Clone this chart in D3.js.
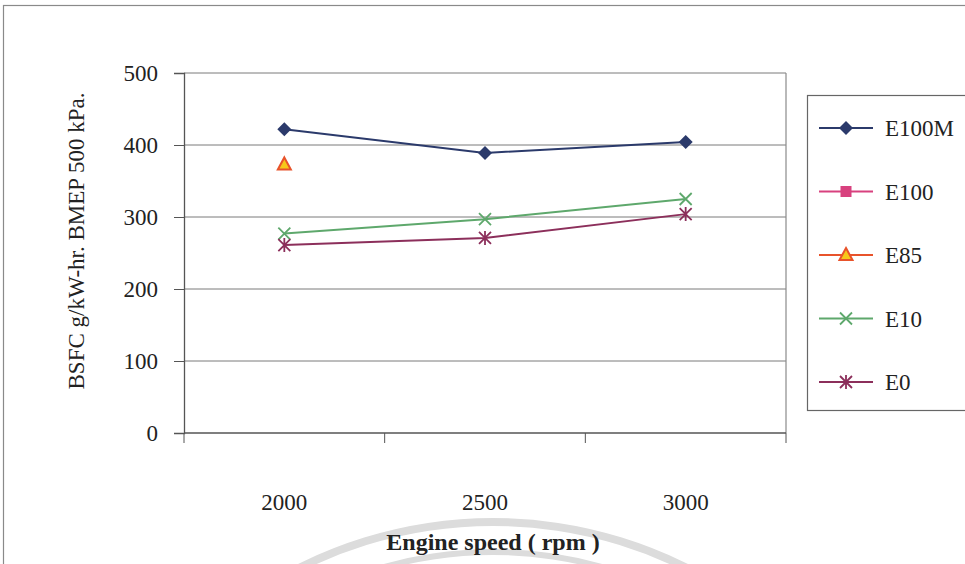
<!DOCTYPE html>
<html>
<head>
<meta charset="utf-8">
<script src="https://cdn.jsdelivr.net/npm/d3@7"></script>
<style>
  html, body { margin: 0; padding: 0; background: #fff; }
  svg { display: block; font-family: "Liberation Serif", "Times New Roman", serif; }
</style>
</head>
<body>
<svg id="chart" width="965" height="564"></svg>
<script>
// Engine speed categories (rpm)
const categories = ["2000", "2500", "3000"];
// BSFC at BMEP 500 kPa, g/kW-hr, per fuel blend
const e100m = [422, 389, 404];
const e100 = [null, null, null];
const e85 = [373, null, null];
const e10 = [277, 297, 325];
const e0 = [261, 271, 304];
const yTicks = [0, 100, 200, 300, 400, 500];

const seriesList = [
  { name: "E100M", values: e100m, color: "#2b3a6b", marker: "diamond" },
  { name: "E100", values: e100, color: "#d8417e", marker: "square" },
  { name: "E85", values: e85, color: "#e8532b", marker: "triangle" },
  { name: "E10", values: e10, color: "#5ea86c", marker: "x" },
  { name: "E0", values: e0, color: "#8c2f5b", marker: "star" }
];

const svg = d3.select("#chart");
const plot = { left: 184, right: 786, top: 73, bottom: 433 };

// faint watermark arcs near the bottom
const wm = svg.append("g");
[[432, 8], [402, 6]].forEach(([r, w]) => {
  wm.append("path")
    .attr("d", d3.arc()({ innerRadius: r - w / 2, outerRadius: r + w / 2, startAngle: -0.6, endAngle: 0.6 }))
    .attr("transform", "translate(493,954)")
    .attr("fill", "#dcdcdc");
});

// outer chart frame
svg.append("rect").attr("x", 3.5).attr("y", 5.5).attr("width", 980).attr("height", 600)
  .attr("fill", "none").attr("stroke", "#8a8a8a").attr("stroke-width", 1.2);

const x = d3.scaleBand().domain(categories).range([plot.left, plot.right]).padding(0);
const y = d3.scaleLinear().domain([0, 500]).range([plot.bottom, plot.top]);

// horizontal gridlines
svg.append("g").selectAll("line").data(yTicks.filter(v => v > 0)).join("line")
  .attr("x1", plot.left).attr("x2", plot.right)
  .attr("y1", d => y(d)).attr("y2", d => y(d))
  .attr("stroke", "#7a7a7a").attr("stroke-width", 1);
// right border of plot area
svg.append("line").attr("x1", plot.right).attr("x2", plot.right)
  .attr("y1", plot.top).attr("y2", plot.bottom)
  .attr("stroke", "#8a8a8a").attr("stroke-width", 1.2);

// y axis
const yAxis = svg.append("g").attr("transform", `translate(${plot.left},0)`)
  .call(d3.axisLeft(y).tickValues(yTicks).tickSize(10).tickPadding(16));
yAxis.select(".domain").attr("stroke", "#555").attr("stroke-width", 1.3);
yAxis.selectAll(".tick line").attr("stroke", "#555");
yAxis.selectAll("text").attr("font-size", 23).attr("fill", "#222")
  .attr("font-family", "Liberation Serif, Times New Roman, serif");

// x axis line with ticks at category boundaries
const xAxis = svg.append("g");
xAxis.append("line").attr("x1", plot.left).attr("x2", plot.right)
  .attr("y1", plot.bottom).attr("y2", plot.bottom)
  .attr("stroke", "#555").attr("stroke-width", 1.5);
const bounds = categories.map(c => x(c)).concat([x(categories[categories.length - 1]) + x.bandwidth()]);
xAxis.selectAll(".xt").data(bounds).join("line")
  .attr("x1", d => d).attr("x2", d => d)
  .attr("y1", plot.bottom).attr("y2", plot.bottom + 10)
  .attr("stroke", "#555");
xAxis.selectAll("text").data(categories).join("text")
  .attr("x", d => x(d) + x.bandwidth() / 2)
  .attr("y", 510)
  .attr("text-anchor", "middle").attr("font-size", 23).attr("fill", "#222")
  .text(d => d);

// axis titles
svg.append("text").attr("x", 493).attr("y", 550).attr("text-anchor", "middle")
  .attr("font-size", 24).attr("font-weight", "bold").attr("fill", "#222")
  .text("Engine speed ( rpm )");
svg.append("text").attr("transform", "translate(84,241) rotate(-90)")
  .attr("text-anchor", "middle").attr("font-size", 23).attr("fill", "#222")
  .text("BSFC g/kW-hr. BMEP 500 kPa.");

// marker drawing
function drawMarker(g, type, color, cx, cy) {
  const m = g.append("g").attr("transform", `translate(${cx},${cy})`);
  if (type === "diamond") {
    m.append("path").attr("d", "M0,-7L7,0L0,7L-7,0Z").attr("fill", color);
  } else if (type === "square") {
    m.append("rect").attr("x", -5.5).attr("y", -5.5).attr("width", 11).attr("height", 11).attr("fill", color);
  } else if (type === "triangle") {
    m.append("path").attr("d", "M0,-7L6.5,5L-6.5,5Z").attr("fill", "#f7c81a")
      .attr("stroke", color).attr("stroke-width", 2).attr("stroke-linejoin", "miter");
  } else if (type === "x") {
    m.append("path").attr("d", "M-6,-6L6,6M-6,6L6,-6").attr("stroke", color).attr("stroke-width", 1.8);
  } else if (type === "star") {
    m.append("path").attr("d", "M-6,-6L6,6M-6,6L6,-6M0,-7L0,7").attr("stroke", color).attr("stroke-width", 1.8);
  }
}

// series lines and markers
const line = d3.line()
  .defined(d => d.v != null)
  .x(d => x(d.c) + x.bandwidth() / 2)
  .y(d => y(d.v));

seriesList.forEach(s => {
  const pts = categories.map((c, i) => ({ c, v: s.values[i] }));
  svg.append("path").datum(pts).attr("d", line)
    .attr("fill", "none").attr("stroke", s.color).attr("stroke-width", 2);
  const g = svg.append("g");
  pts.filter(p => p.v != null).forEach(p => drawMarker(g, s.marker, s.color, x(p.c) + x.bandwidth() / 2, y(p.v)));
});

// legend
const legend = svg.append("g");
legend.append("rect").attr("x", 807.5).attr("y", 95.5).attr("width", 170).attr("height", 315)
  .attr("fill", "#fff").attr("stroke", "#666").attr("stroke-width", 1.2);
const ly = d3.scalePoint().domain(seriesList.map(s => s.name)).range([128, 382]);
seriesList.forEach(s => {
  const cy = ly(s.name);
  legend.append("line").attr("x1", 819).attr("x2", 873).attr("y1", cy).attr("y2", cy)
    .attr("stroke", s.color).attr("stroke-width", 2);
  drawMarker(legend, s.marker, s.color, 846, cy);
  legend.append("text").attr("x", 885).attr("y", cy + 8).attr("font-size", 23).attr("fill", "#222")
    .text(s.name);
});
</script>
</body>
</html>
